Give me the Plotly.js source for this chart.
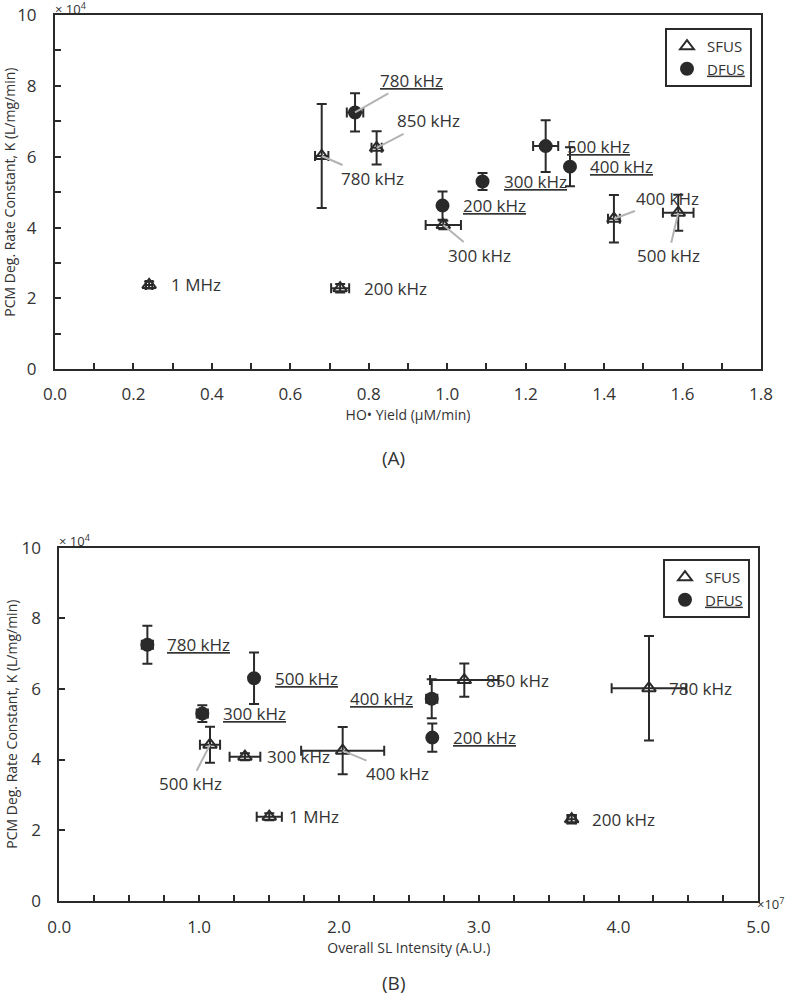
<!DOCTYPE html>
<html><head><meta charset="utf-8">
<script src="https://cdn.plot.ly/plotly-3.0.1.min.js"></script>
<style>body{margin:0;background:#fff}#chart{width:787px;height:1000px}</style>
</head><body><div id="chart"></div>
<script>
// ---- Data (K values in units of 10^4 L/mg/min) ----
// Panel A: HO• yield (µM/min)
var A_SFUS_labels = ['1 MHz','200 kHz','780 kHz','850 kHz','300 kHz','400 kHz','500 kHz'];
var A_SFUS_x      = [0.24, 0.727, 0.68, 0.82, 0.99, 1.425, 1.589];
var A_SFUS_xerr   = [0.008, 0.023, 0.017, 0.013, 0.045, 0.015, 0.039];
var A_SFUS_y      = [2.38, 2.29, 6.02, 6.25, 4.07, 4.25, 4.42];
var A_SFUS_yerr   = [0.10, 0.12, 1.47, 0.47, 0.12, 0.67, 0.51];

var A_DFUS_labels = ['780 kHz','500 kHz','400 kHz','300 kHz','200 kHz'];
var A_DFUS_x      = [0.765, 1.251, 1.313, 1.09, 0.988];
var A_DFUS_xerr   = [0.021, 0.032, 0.004, 0.004, 0.004];
var A_DFUS_y      = [7.25, 6.30, 5.72, 5.30, 4.62];
var A_DFUS_yerr   = [0.54, 0.73, 0.55, 0.24, 0.40];

// Panel B: overall SL intensity (×10^7 A.U.)
var B_SFUS_labels = ['1 MHz','200 kHz','780 kHz','850 kHz','300 kHz','400 kHz','500 kHz'];
var B_SFUS_x      = [1.502, 3.665, 4.218, 2.897, 1.328, 2.027, 1.078];
var B_SFUS_xerr   = [0.09, 0.03, 0.267, 0.245, 0.11, 0.297, 0.072];
var B_SFUS_y      = [2.38, 2.31, 6.02, 6.25, 4.08, 4.25, 4.42];
var B_SFUS_yerr   = [0.10, 0.12, 1.48, 0.47, 0.10, 0.67, 0.51];

var B_DFUS_labels = ['780 kHz','500 kHz','400 kHz','300 kHz','200 kHz'];
var B_DFUS_x      = [0.63, 1.393, 2.664, 1.023, 2.668];
var B_DFUS_xerr   = [0.04, 0.004, 0.04, 0.04, 0.004];
var B_DFUS_y      = [7.25, 6.30, 5.72, 5.30, 4.62];
var B_DFUS_yerr   = [0.54, 0.73, 0.55, 0.24, 0.40];

// ---- Label placement (pixel offsets, style only) ----
var A_SFUS_place = {'1 MHz':{xs:20},'200 kHz':{xs:22},'780 kHz':{ax:51,ay:22},'850 kHz':{ax:52,ay:-27},
  '300 kHz':{ax:36,ay:30},'400 kHz':{ax:54,ay:-20},'500 kHz':{ax:-10,ay:43}};
var A_DFUS_place = {'780 kHz':{ax:56,ay:-32},'500 kHz':{xs:19},'400 kHz':{xs:18},'300 kHz':{xs:19},'200 kHz':{xs:18}};
var B_SFUS_place = {'1 MHz':{xs:18},'200 kHz':{xs:18},'780 kHz':{xs:18},'850 kHz':{xs:20},'300 kHz':{xs:20},
  '400 kHz':{ax:55,ay:23},'500 kHz':{ax:-20,ay:39}};
var B_DFUS_place = {'780 kHz':{xs:18},'500 kHz':{xs:19},'400 kHz':{xs:-17,right:true},'300 kHz':{xs:19},'200 kHz':{xs:19}};

var INK = '#2a2a2a', TXT = '#333333', FONT = 'Open Sans, sans-serif';

function errBar(arr){ return {type:'data', array:arr, visible:true, color:INK, thickness:2, width:5}; }
function mk(x,y,xe,ye,name,sym,size,xa,ya,leg,show){
  return {type:'scatter', mode:'markers', x:x, y:y, name:name, xaxis:xa, yaxis:ya, legend:leg, showlegend:show,
    error_x:errBar(xe), error_y:errBar(ye), cliponaxis:false,
    marker:{symbol:sym, size:size, color:INK, line:{color:INK, width:2}}};
}
var data = [
  mk(A_SFUS_x,A_SFUS_y,A_SFUS_xerr,A_SFUS_yerr,'SFUS','triangle-up-open',12,'x','y','legend',true),
  mk(A_DFUS_x,A_DFUS_y,A_DFUS_xerr,A_DFUS_yerr,'<u>DFUS</u>','circle',12,'x','y','legend',true),
  mk(B_SFUS_x,B_SFUS_y,B_SFUS_xerr,B_SFUS_yerr,'SFUS','triangle-up-open',12,'x2','y2','legend2',true),
  mk(B_DFUS_x,B_DFUS_y,B_DFUS_xerr,B_DFUS_yerr,'<u>DFUS</u>','circle',12,'x2','y2','legend2',true)
];

var ann = [];
function addLabels(labels,xs,ys,place,xa,ya,underline){
  labels.forEach(function(lab,i){
    var p = place[lab] || {xs:18};
    var txt = underline ? '<u>'+lab+'</u>' : lab;
    var a = {x:xs[i], y:ys[i], xref:xa, yref:ya, text:txt, font:{family:FONT,size:17,color:TXT}};
    if (p.ax !== undefined){
      a.showarrow = true; a.ax = p.ax; a.ay = p.ay; a.arrowhead = 0; a.arrowwidth = 2;
      a.arrowcolor = '#b3b3b3'; a.standoff = 0; a.startstandoff = 0;
    } else {
      a.showarrow = false; a.xanchor = p.right ? 'right' : 'left'; a.xshift = p.xs; a.yanchor = 'middle';
    }
    ann.push(a);
  });
}
addLabels(A_SFUS_labels,A_SFUS_x,A_SFUS_y,A_SFUS_place,'x','y',false);
addLabels(A_DFUS_labels,A_DFUS_x,A_DFUS_y,A_DFUS_place,'x','y',true);
addLabels(B_SFUS_labels,B_SFUS_x,B_SFUS_y,B_SFUS_place,'x2','y2',false);
addLabels(B_DFUS_labels,B_DFUS_x,B_DFUS_y,B_DFUS_place,'x2','y2',true);

function paperText(txt,px,py,size,anchor){
  ann.push({text:txt, xref:'paper', yref:'paper', x:px/787, y:1-py/1000, showarrow:false,
    xanchor:anchor||'center', yanchor:'middle', font:{family:FONT,size:size,color:TXT}});
}
paperText('× 10<sup>4</sup>',53,8,13,'left');
paperText('× 10<sup>4</sup>',57,540,13,'left');
paperText('×10<sup>7</sup>',755,903,13,'left');
paperText('(A)',393,458,19);
paperText('(B)',393,983,19);

function axis(domain,range,dtick,minor,fmt,anchor,title,standoff,labelStand){
  return {domain:domain, range:range, anchor:anchor, dtick:dtick, tick0:0, tickformat:fmt,
    showline:true, linecolor:INK, linewidth:2, mirror:true, showgrid:false, zeroline:false,
    ticks:'inside', ticklen:6, tickwidth:2, tickcolor:INK, ticklabelstandoff:labelStand,
    minor: minor ? {dtick:minor, ticks:'inside', ticklen:6, tickwidth:2, tickcolor:INK, showgrid:false} : undefined,
    tickfont:{family:FONT,size:17,color:TXT},
    title:{text:title, font:{family:FONT,size:14,color:TXT}, standoff:standoff}};
}
var ytitle = 'PCM Deg. Rate Constant, K (L/mg/min)';
var layout = {
  width:787, height:1000, margin:{l:0,r:0,t:0,b:0}, paper_bgcolor:'#fff', plot_bgcolor:'#fff',
  showlegend:true,
  xaxis: axis([55/787,761/787],[0,1.8],0.2,0.1,'.1f','y','HO• Yield (µM/min)',6,8),
  yaxis: axis([1-369.3/1000,1-15/1000],[0,10],2,1,'d','x',ytitle,1,13),
  xaxis2: axis([59.3/787,758.3/787],[0,5],1,0.25,'.1f','y2','Overall SL Intensity (A.U.)',6,10),
  yaxis2: axis([1-900.7/1000,1-547.7/1000],[0,10],2,null,'d','x2',ytitle,1,13),
  legend:{x:665/787, y:1-28/1000, xanchor:'left', yanchor:'top', bgcolor:'#fff', bordercolor:INK, borderwidth:2,
    font:{family:FONT,size:15,color:TXT}, itemwidth:30, tracegroupgap:0},
  legend2:{x:663/787, y:1-559/1000, xanchor:'left', yanchor:'top', bgcolor:'#fff', bordercolor:INK, borderwidth:2,
    font:{family:FONT,size:15,color:TXT}, itemwidth:30, tracegroupgap:0},
  shapes:[
    {type:'rect', xref:'paper', yref:'paper', x0:669/787, x1:749/787, y0:1-80/1000, y1:1-32/1000,
     fillcolor:'rgba(0,0,0,0.12)', line:{width:0}, layer:'above'},
    {type:'rect', xref:'paper', yref:'paper', x0:667/787, x1:748/787, y0:1-614/1000, y1:1-563/1000,
     fillcolor:'rgba(0,0,0,0.12)', line:{width:0}, layer:'above'}
  ],
  annotations: ann
};
Plotly.newPlot('chart', data, layout, {staticPlot:true, displayModeBar:false});
</script></body></html>
